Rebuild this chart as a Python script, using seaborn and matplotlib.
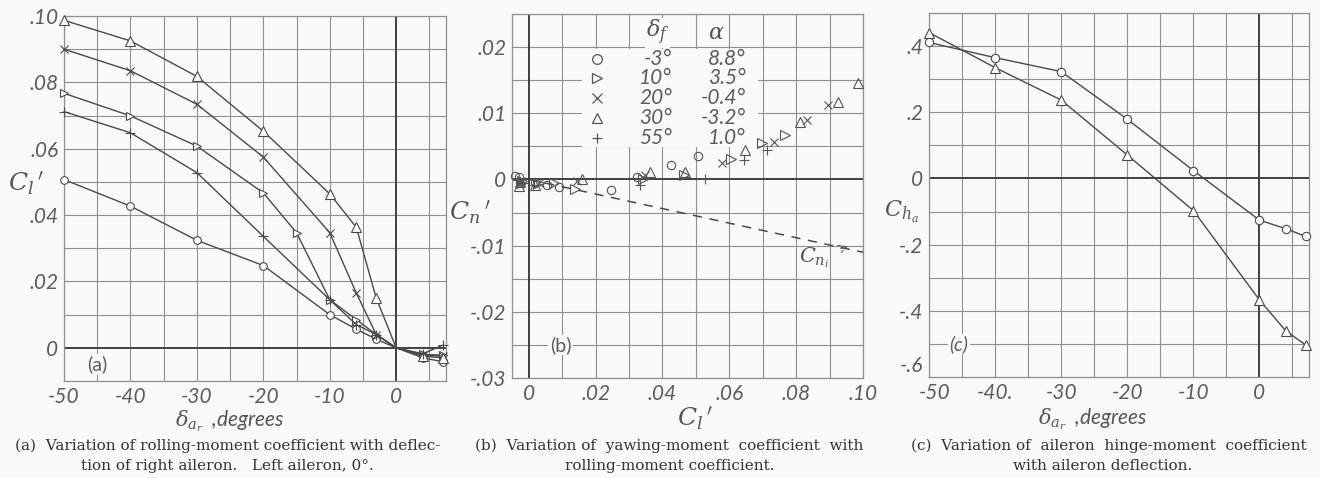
import matplotlib
matplotlib.use("Agg")
import matplotlib.pyplot as plt
import matplotlib.transforms as mtrans
import seaborn as sns
import numpy as np
from matplotlib.patches import Rectangle

# ---------------- data ----------------
# Panel (a): rolling-moment coefficient vs right-aileron deflection
a_circ_x = [-50, -40, -30, -20, -10, -6, -3, 0, 4, 7]
a_circ_y = [0.0507, 0.0427, 0.0324, 0.0248, 0.0100, 0.0056, 0.0026, 0.0, -0.0030, -0.0042]
a_rtri_x = [-50, -40, -30, -20, -15, -10, -6, -3, 0, 4, 7]
a_rtri_y = [0.0767, 0.0699, 0.0608, 0.0467, 0.0347, 0.0145, 0.0085, 0.0040, 0.0, -0.0020, -0.0022]
a_cross_x = [-50, -40, -30, -20, -10, -6, -3, 0, 4, 7]
a_cross_y = [0.0900, 0.0835, 0.0734, 0.0575, 0.0347, 0.0165, 0.0040, 0.0, -0.0022, -0.0025]
a_tri_x = [-50, -40, -30, -20, -10, -6, -3, 0, 4, 7]
a_tri_y = [0.0987, 0.0925, 0.0818, 0.0653, 0.0464, 0.0363, 0.0150, 0.0, -0.0025, -0.0030]
a_plus_x = [-50, -40, -30, -20, -10, -6, -3, 0, 4, 7]
a_plus_y = [0.0712, 0.0648, 0.0528, 0.0336, 0.0145, 0.0070, 0.0040, 0.0, -0.0018, 0.0008]

# Panel (b): yawing-moment coefficient vs rolling-moment coefficient
b_circ_cl = [0.0506, 0.0426, 0.0324, 0.0245, 0.0092, 0.0054, 0.0020, -0.0030, -0.0042]
b_circ_cn = [0.0035, 0.0022, 0.0003, -0.0016, -0.0012, -0.0009, -0.0004, 0.0003, 0.0005]
b_rtri_cl = [0.0767, 0.0697, 0.0606, 0.0464, 0.0342, 0.0138, 0.0077, 0.0032, -0.0020, -0.0022]
b_rtri_cn = [0.0067, 0.0055, 0.0031, 0.0007, 0.0000, -0.0014, -0.0005, -0.0006, -0.0003, -0.0006]
b_cross_cl = [0.0895, 0.0833, 0.0733, 0.0577, 0.0348, 0.0143, 0.0030, -0.0022, -0.0025]
b_cross_cn = [0.0112, 0.0090, 0.0057, 0.0025, 0.0006, -0.0003, -0.0005, -0.0002, -0.0006]
b_tri_cl = [0.0985, 0.0925, 0.0813, 0.0648, 0.0469, 0.0363, 0.0158, 0.0020, -0.0025, -0.0030]
b_tri_cn = [0.0146, 0.0117, 0.0087, 0.0045, 0.0011, 0.0012, 0.0000, -0.0008, -0.0004, -0.0010]
b_plus_cl = [0.0713, 0.0645, 0.0526, 0.0333, 0.0012, -0.0018]
b_plus_cn = [0.0044, 0.0029, 0.0001, -0.0008, -0.0008, -0.0006]
cni_cl = [0.0, 0.10]
cni_cn = [0.0, -0.0110]

legend_df = ["-3°", "10°", "20°", "30°", "55°"]
legend_alpha = ["8.8°", "3.5°", "-0.4°", "-3.2°", "1.0°"]

# Panel (c): hinge-moment coefficient vs aileron deflection
c_x = [-50, -40, -30, -20, -10, 0, 4, 7]
c_circ_y = [0.411, 0.365, 0.323, 0.179, 0.024, -0.126, -0.152, -0.175]
c_tri_y = [0.441, 0.335, 0.237, 0.071, -0.097, -0.367, -0.461, -0.503]

# tick labels
a_xticks = [-50, -40, -30, -20, -10, 0]
a_xlabels = ["-50", "-40", "-30", "-20", "-10", "0"]
a_yticks = [0, 0.02, 0.04, 0.06, 0.08, 0.10]
a_ylabels = ["0", ".02", ".04", ".06", ".08", ".10"]
b_xticks = [0, 0.02, 0.04, 0.06, 0.08, 0.10]
b_xlabels = ["0", ".02", ".04", ".06", ".08", ".10"]
b_yticks = [-0.03, -0.02, -0.01, 0, 0.01, 0.02]
b_ylabels = ["-.03", "-.02", "-.01", "0", ".01", ".02"]
c_xticks = [-50, -40, -30, -20, -10, 0]
c_xlabels = ["-50", "-40.", "-30", "-20", "-10", "0"]
c_yticks = [-0.6, -0.4, -0.2, 0, 0.2, 0.4]
c_ylabels = ["-.6", "-.4", "-.2", "0", ".2", ".4"]

# ---------------- style ----------------
sns.set_theme(style="white")
plt.rcParams["font.family"] = ["DejaVu Sans"]
plt.rcParams["mathtext.fontset"] = "dejavuserif"

BG = "#fafaf8"
LC = "#4a4a4a"
GC = "#8f8f8f"
ZC = "#404040"
TC = "#5c5c5c"
TICKFONT = dict(family="Lato", style="italic", weight="normal", size=15, color=TC)

fig = plt.figure(figsize=(13.2, 4.78), dpi=100, facecolor=BG)
W, H = 1320, 478


def make_ax(l, r, t, b):
    return fig.add_axes([l / W, (H - b) / H, (r - l) / W, (b - t) / H], facecolor=BG)


ax_a = make_ax(64, 446, 16, 381)
ax_b = make_ax(512, 863, 14, 378)
ax_c = make_ax(929, 1309, 13, 377)


def style_axes(ax, xlim, ylim, xgrid, ygrid, xticks, xlabels, yticks, ylabels):
    ax.set_xlim(*xlim)
    ax.set_ylim(*ylim)
    gx = np.arange(np.ceil(xlim[0] / xgrid) * xgrid, xlim[1] + 1e-9, xgrid)
    gy = np.arange(np.ceil(ylim[0] / ygrid) * ygrid, ylim[1] + 1e-9, ygrid)
    for v in gx:
        if abs(v) < 1e-9:
            ax.axvline(v, color=ZC, lw=1.4, zorder=1)
        else:
            ax.axvline(v, color=GC, lw=0.8, zorder=0.5)
    for v in gy:
        if abs(v) < 1e-9:
            ax.axhline(v, color=ZC, lw=1.4, zorder=1)
        else:
            ax.axhline(v, color=GC, lw=0.8, zorder=0.5)
    ax.set_xticks(xticks)
    ax.set_xticklabels(xlabels, **TICKFONT)
    ax.set_yticks(yticks)
    ax.set_yticklabels(ylabels, **TICKFONT)
    ax.tick_params(length=0, pad=4)
    for s in ax.spines.values():
        s.set_color(GC)
        s.set_linewidth(0.9)


def line(ax, x, y, marker, ms, skip_zero=True):
    idx = [i for i, v in enumerate(x) if not (skip_zero and v == 0)]
    sns.lineplot(x=x, y=y, ax=ax, color=LC, lw=1.0, marker=marker, ms=ms,
                 mfc="white", mec=LC, mew=0.8, markevery=idx,
                 estimator=None, sort=False, clip_on=False, zorder=3)


LABELFONT = dict(family="Lato", style="italic", weight="normal", size=15,
                 color="#555555")
XLAB = r"$\delta_{a_r}$  ,degrees"

# ---------------- panel (a) ----------------
style_axes(ax_a, (-50, 7.5), (-0.01, 0.10), 5, 0.01,
           a_xticks, a_xlabels, a_yticks, a_ylabels)
line(ax_a, a_circ_x, a_circ_y, "o", 5.5)
line(ax_a, a_rtri_x, a_rtri_y, ">", 6)
line(ax_a, a_cross_x, a_cross_y, "x", 6)
line(ax_a, a_tri_x, a_tri_y, "^", 6.5)
line(ax_a, a_plus_x, a_plus_y, "+", 7)
ax_a.text(-45, -0.005, "(a)", ha="center", va="center", fontsize=14, color=TC,
          family="Lato", bbox=dict(facecolor=BG, edgecolor="none", pad=1),
          zorder=4)
ax_a.set_xlabel(XLAB, **LABELFONT)
ax_a.xaxis.set_label_coords(0.435, -0.074)
ax_a.set_ylabel(r"$C_l\,'$", fontsize=18, color="#555555", rotation=0,
                va="center", ha="center")
ax_a.yaxis.set_label_coords(-0.10, 0.542)

# ---------------- panel (b) ----------------
style_axes(ax_b, (-0.005, 0.10), (-0.03, 0.025), 0.01, 0.005,
           b_xticks, b_xlabels, b_yticks, b_ylabels)
sns.lineplot(x=cni_cl, y=cni_cn, ax=ax_b, color=LC, lw=1.1, dashes=False,
             linestyle=(0, (6, 5)), estimator=None, sort=False, zorder=2)


def pts(ax, x, y, marker, ms):
    sns.lineplot(x=x, y=y, ax=ax, linestyle="none", marker=marker, ms=ms,
                 mfc="none", mec="#555555", mew=0.8, color="#555555",
                 estimator=None, sort=False, clip_on=False, zorder=3)


pts(ax_b, b_circ_cl, b_circ_cn, "o", 6)
pts(ax_b, b_rtri_cl, b_rtri_cn, ">", 6.5)
pts(ax_b, b_cross_cl, b_cross_cn, "x", 6)
pts(ax_b, b_tri_cl, b_tri_cn, "^", 6.5)
pts(ax_b, b_plus_cl, b_plus_cn, "+", 7.5)

# legend table
ax_b.add_patch(Rectangle((0.20, 0.635), 0.50, 0.27, transform=ax_b.transAxes,
                         facecolor=BG, edgecolor="none", zorder=2.5))
row_y = [0.876, 0.823, 0.768, 0.714, 0.660]
markers = ["o", ">", "x", "^", "+"]
for yy, mk, df, al in zip(row_y, markers, legend_df, legend_alpha):
    ax_b.plot([0.241], [yy], transform=ax_b.transAxes, marker=mk, ms=7,
              mfc="none", mec="#555555", mew=0.9, linestyle="none", zorder=4)
    ax_b.text(0.455, yy, df, transform=ax_b.transAxes, ha="right", va="center",
              zorder=4, **TICKFONT)
    ax_b.text(0.665, yy, al, transform=ax_b.transAxes, ha="right", va="center",
              zorder=4, **TICKFONT)
ax_b.text(0.415, 0.948, r"$\delta_f$", transform=ax_b.transAxes, ha="center",
          va="center", fontsize=16, color="#555555", zorder=3,
          bbox=dict(facecolor=BG, edgecolor="none", pad=0.5))
ax_b.text(0.583, 0.948, r"$\alpha$", transform=ax_b.transAxes, ha="center",
          va="center", fontsize=16, color="#555555", zorder=3,
          bbox=dict(facecolor=BG, edgecolor="none", pad=0.5))

ax_b.annotate(r"$C_{n_i}$", xy=(0.0955, -0.0101), xytext=(0.0855, -0.0118),
              textcoords="data", fontsize=15, color="#555555", ha="center",
              va="center",
              arrowprops=dict(arrowstyle="->", linestyle=(0, (3, 2)), lw=0.7,
                              color="#555555", shrinkA=6, shrinkB=0))
ax_b.text(0.0095, -0.025, "(b)", ha="center", va="center", fontsize=14,
          color=TC, family="Lato",
          bbox=dict(facecolor=BG, edgecolor="none", pad=1), zorder=4)
ax_b.set_xlabel(r"$C_l\,'$", fontsize=18, color="#555555")
ax_b.xaxis.set_label_coords(0.521, -0.074)
ax_b.set_ylabel(r"$C_n\,'$", fontsize=18, color="#555555", rotation=0,
                va="center", ha="center")
ax_b.yaxis.set_label_coords(-0.121, 0.454)

# ---------------- panel (c) ----------------
style_axes(ax_c, (-50, 7.5), (-0.6, 0.5), 5, 0.1,
           c_xticks, c_xlabels, c_yticks, c_ylabels)
# lift the lowest y label a little so it clears "-50"
lab = ax_c.get_yticklabels()[0]
lab.set_transform(lab.get_transform() + mtrans.ScaledTranslation(0, 9 / 72, fig.dpi_scale_trans))
xl = ax_c.get_xticklabels()[0]
xl.set_transform(xl.get_transform() + mtrans.ScaledTranslation(4 / 72, 0, fig.dpi_scale_trans))
line(ax_c, c_x, c_circ_y, "o", 6, skip_zero=False)
line(ax_c, c_x, c_tri_y, "^", 6.5, skip_zero=False)
ax_c.text(-45.5, -0.5, "(c)", ha="center", va="center", fontsize=14, color=TC,
          family="Lato", style="italic",
          bbox=dict(facecolor=BG, edgecolor="none", pad=1), zorder=4)
ax_c.set_xlabel(XLAB, **LABELFONT)
ax_c.xaxis.set_label_coords(0.431, -0.082)
ax_c.set_ylabel(r"$C_{h_a}$", fontsize=16, color="#555555", rotation=0,
                va="center", ha="center")
ax_c.yaxis.set_label_coords(-0.072, 0.453)

# ---------------- captions ----------------
CAP = dict(family="DejaVu Serif", fontsize=11.0, color="#333333", ha="center",
           va="center")
fig.text(228 / W, 1 - 446 / H,
         "(a)  Variation of rolling-moment coefficient with deflec-", **CAP)
fig.text(227 / W, 1 - 466 / H,
         "tion of right aileron.   Left aileron, 0°.", **CAP)
fig.text(669 / W, 1 - 446 / H,
         "(b)  Variation of  yawing-moment  coefficient  with", **CAP)
fig.text(670 / W, 1 - 466 / H, "rolling-moment coefficient.", **CAP)
fig.text(1109 / W, 1 - 446 / H,
         "(c)  Variation of  aileron  hinge-moment  coefficient", **CAP)
fig.text(1103 / W, 1 - 466 / H, "with aileron deflection.", **CAP)

fig.savefig("out.png", dpi=100, facecolor=BG)
